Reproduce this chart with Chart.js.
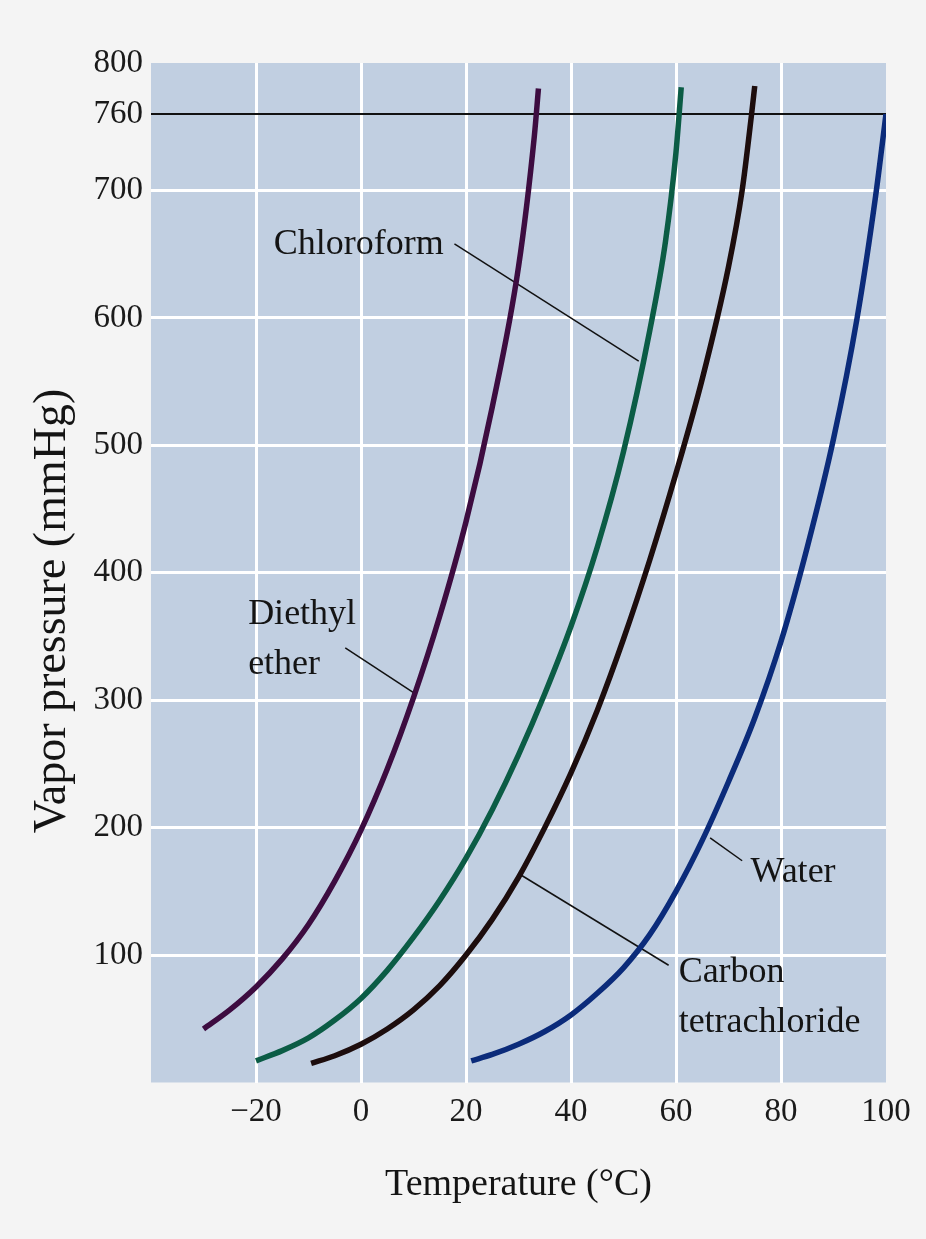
<!DOCTYPE html>
<html>
<head>
<meta charset="utf-8">
<script src="https://cdn.jsdelivr.net/npm/chart.js@4.4.1/dist/chart.umd.min.js"></script>
<style>
  body { margin: 0; background: #f4f4f4; }
  #wrap { width: 926px; height: 1239px; position: relative; }
</style>
</head>
<body>
<div id="wrap"><canvas id="myChart-vapor"></canvas></div>
<script>
// temperature (°C) / vapor pressure (mmHg)
const etherT = [-30, -25, -20, -15, -10, -5, 0, 5, 10, 15, 20, 25, 30, 33, 33.8];
const etherP = [42, 57, 75, 97, 124, 158, 198, 246, 302, 366, 440, 530, 640, 742, 780];

const chloroformT = [-20, -15, -10, -5, 0, 5, 10, 15, 20, 25, 30, 35, 40, 45, 50, 55, 58, 60, 61];
const chloroformP = [17, 25, 35, 49, 66, 88, 114, 143, 176, 214, 257, 305, 358, 420, 495, 590, 660, 730, 781];

const carbonTetT = [-9.5, -5, 0, 5, 10, 15, 20, 25, 30, 35, 40, 45, 50, 55, 60, 65, 70, 72.6, 74.4, 75];
const carbonTetP = [15, 21, 30, 42, 57, 76, 100, 128, 161, 200, 243, 292, 348, 410, 478, 552, 640, 700, 760, 782];

const waterT = [21, 25, 30, 35, 40, 45, 50, 55, 60, 65, 70, 75, 80, 85, 90, 94.5, 98, 100];
const waterP = [17, 22, 30, 40, 53, 70, 90, 116, 150, 190, 236, 286, 346, 420, 505, 600, 695, 760];

const xTicks = [-20, 0, 20, 40, 60, 80, 100];
const yTicks = [100, 200, 300, 400, 500, 600, 700, 760, 800];
const atmosphere = 760;

// label text with its anchor (data coords) and leader line end points
const labels = [
  { lines: ["Chloroform"], t: -16.6, p: 650, leader: [[17.8, 658], [52.9, 566]] },
  { lines: ["Diethyl", "ether"], t: -21.5, p: 360, leader: [[-3.0, 341], [10.0, 306]] },
  { lines: ["Water"], t: 74.2, p: 157, leader: [[66.5, 192], [72.6, 174]] },
  { lines: ["Carbon", "tetrachloride"], t: 60.5, p: 79, leader: [[30.0, 164], [58.6, 92]] },
];

const serif = "'Liberation Serif', 'Times New Roman', serif";

function pts(xs, ys) {
  return xs.map((x, i) => ({ x: x, y: ys[i] }));
}

function curve(label, xs, ys, color) {
  return {
    label: label,
    data: pts(xs, ys),
    borderColor: color,
    borderWidth: 5.5,
    pointRadius: 0,
    cubicInterpolationMode: "monotone",
  };
}

const datasets = [
  curve("Diethyl ether", etherT, etherP, "#3d0c40"),
  curve("Chloroform", chloroformT, chloroformP, "#0b5c45"),
  curve("Carbon tetrachloride", carbonTetT, carbonTetP, "#1d0d0d"),
  curve("Water", waterT, waterP, "#0b2b7a"),
  {
    label: "760 mmHg",
    data: [{ x: -40, y: atmosphere }, { x: 100, y: atmosphere }],
    borderColor: "#111",
    borderWidth: 2,
    pointRadius: 0,
  },
];
labels.forEach(l => {
  datasets.push({
    label: l.lines.join(" ") + " leader",
    data: l.leader.map(p => ({ x: p[0], y: p[1] })),
    borderColor: "#111",
    borderWidth: 1.5,
    pointRadius: 0,
  });
});

const plotBg = {
  id: "plotBg",
  beforeDraw(chart) {
    const { ctx, chartArea: a } = chart;
    ctx.save();
    ctx.fillStyle = "#c1cfe1";
    ctx.fillRect(a.left, a.top, a.right - a.left, a.bottom - a.top);
    ctx.restore();
  },
};

const textLabels = {
  id: "textLabels",
  afterDatasetsDraw(chart) {
    const { ctx, scales: { x, y } } = chart;
    ctx.save();
    ctx.fillStyle = "#141414";
    ctx.font = "36px " + serif;
    ctx.textAlign = "left";
    ctx.textBaseline = "alphabetic";
    labels.forEach(l => {
      const px = x.getPixelForValue(l.t);
      const py = y.getPixelForValue(l.p);
      l.lines.forEach((s, i) => ctx.fillText(s, px, py + i * 50));
    });
    // y axis title
    ctx.translate(53, 611);
    ctx.rotate(-Math.PI / 2);
    ctx.font = "46px " + serif;
    ctx.textAlign = "center";
    ctx.textBaseline = "middle";
    ctx.fillText("Vapor pressure (mmHg)", 0, 0);
    ctx.restore();
  },
};

function grafico_vapor() {
  const ctx = document.getElementById("myChart-vapor");
  new Chart(ctx, {
    type: "line",
    data: { datasets: datasets },
    plugins: [plotBg, textLabels],
    options: {
      responsive: true,
      maintainAspectRatio: false,
      animation: false,
      layout: { padding: { top: 63, right: 40, left: 0, bottom: 0 } },
      plugins: { legend: { display: false }, tooltip: { enabled: false } },
      scales: {
        x: {
          type: "linear",
          min: -40,
          max: 100,
          afterBuildTicks: s => { s.ticks = xTicks.map(v => ({ value: v })); },
          afterFit: s => { s.height = 156.5; },
          border: { display: false },
          grid: {
            drawTicks: false,
            lineWidth: 3,
            color: c => (c.tick && c.tick.value === 100 ? "rgba(0,0,0,0)" : "#ffffff"),
          },
          ticks: {
            padding: 10,
            color: "#1a1a1a",
            font: { family: serif, size: 33 },
            callback: v => (v < 0 ? "\u2212" + Math.abs(v) : String(v)),
          },
          title: {
            display: true,
            text: "Temperature (°C)",
            color: "#141414",
            font: { family: serif, size: 38 },
            padding: { top: 0, bottom: 31 },
          },
        },
        y: {
          type: "linear",
          min: 0,
          max: 800,
          afterBuildTicks: s => { s.ticks = yTicks.map(v => ({ value: v })); },
          afterFit: s => { s.width = 151; },
          border: { display: false },
          grid: {
            drawTicks: false,
            lineWidth: 3,
            color: c => (c.tick && (c.tick.value === 760 || c.tick.value === 800) ? "rgba(0,0,0,0)" : "#ffffff"),
          },
          ticks: {
            padding: 8,
            color: "#1a1a1a",
            font: { family: serif, size: 33 },
          },
        },
      },
    },
  });
}
grafico_vapor()
</script>
</body>
</html>
